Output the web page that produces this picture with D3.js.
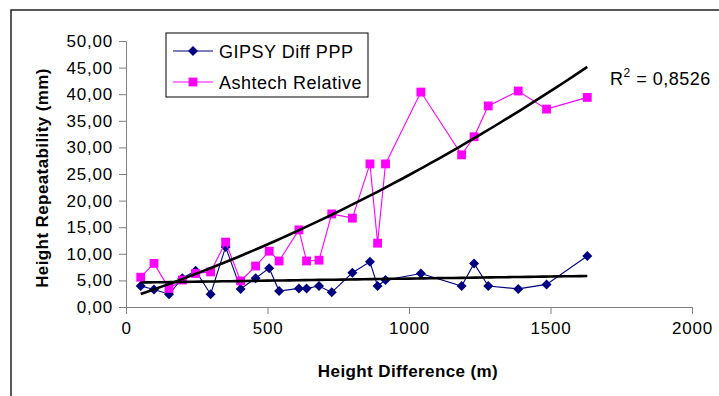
<!DOCTYPE html>
<html>
<head>
<meta charset="utf-8">
<style>
body { margin: 0; background: #fff; }
svg { display: block; font-family: "Liberation Sans", Arial, sans-serif; }
.tick text { font-size: 17px; letter-spacing: 0.8px; fill: #000; }
.axis path, .axis line { stroke: #808080; }
.title { font-size: 17px; font-weight: bold; letter-spacing: 0.4px; }
.legend text { font-size: 18px; letter-spacing: 0.5px; }
</style>
<script src="https://d3js.org/d3.v7.min.js"></script>
</head>
<body>
<svg id="chart" width="719" height="396"></svg>
<script>
// height difference between stations (m), shared by both series
var distances = [52, 99, 152, 199, 246, 299, 352, 405, 458, 506, 541, 611, 638, 682, 727,
                 800, 862, 889, 917, 1042, 1186, 1230, 1280, 1386, 1486, 1630];
// height repeatability (mm)
var gipsy = [3.95, 3.3, 2.4, 5.4, 6.8, 2.4, 11.3, 3.4, 5.4, 7.3, 3.0, 3.5, 3.5, 3.95, 2.75,
             6.45, 8.5, 3.95, 5.07, 6.3, 3.95, 8.2, 3.95, 3.4, 4.25, 9.6];
var ashtech = [5.6, 8.2, 3.5, 5.07, 6.3, 6.6, 12.2, 4.9, 7.7, 10.5, 8.65, 14.5, 8.65, 8.8, 17.5,
               16.7, 26.9, 12.0, 26.9, 40.4, 28.6, 32.0, 37.8, 40.6, 37.2, 39.4];
var seriesNames = ["GIPSY Diff PPP", "Ashtech Relative"];
// trendline coefficients [c0, c1, c2]
var gipsyTrend = [4.56, 0.00078, 0];
var ashtechTrend = [1.5, 0.0178, 5.5e-6];
var xTicks = [0, 500, 1000, 1500, 2000];
var yTicks = [0, 5, 10, 15, 20, 25, 30, 35, 40, 45, 50];
var r2Label = "0,8526";

var svg = d3.select("#chart");
var plotL = 126, plotR = 692, plotT = 41, plotB = 307;

var x = d3.scaleLinear().domain([0, 2000]).range([plotL, plotR]);
var y = d3.scaleLinear().domain([0, 50]).range([plotB, plotT]);

// outer chart frame
svg.append("rect")
  .attr("x", 11).attr("y", 10).attr("width", 730).attr("height", 420)
  .attr("fill", "none").attr("stroke", "#222").attr("stroke-width", 1.5);

var comma = function(d) { return d3.format(".2f")(d).replace(".", ","); };

svg.append("g").attr("class", "axis")
  .attr("transform", "translate(0," + plotB + ")")
  .call(d3.axisBottom(x).tickValues(xTicks).tickFormat(d3.format("d")).tickSize(7).tickSizeOuter(0).tickPadding(8));

svg.append("g").attr("class", "axis")
  .attr("transform", "translate(" + plotL + ",0)")
  .call(d3.axisLeft(y).tickValues(yTicks).tickFormat(comma).tickSize(7).tickSizeOuter(0).tickPadding(6));

var line = d3.line().x(function(d) { return x(d[0]); }).y(function(d) { return y(d[1]); });
var xmin = d3.min(distances), xmax = d3.max(distances);
function trendPts(coef) {
  return d3.range(0, 61).map(function(i) {
    var v = xmin + (xmax - xmin) * i / 60;
    return [v, coef[0] + coef[1] * v + coef[2] * v * v];
  });
}

var series = [
  { values: gipsy, color: "#000080", shape: d3.symbolSquare, size: 50, rot: 45 },
  { values: ashtech, color: "#FF00FF", shape: d3.symbolSquare, size: 78, rot: 0 }
];

series.forEach(function(s) {
  var pts = distances.map(function(d, i) { return [d, s.values[i]]; });
  svg.append("path").attr("d", line(pts)).attr("fill", "none").attr("stroke", s.color).attr("stroke-width", 1.1);
  svg.append("g").selectAll("path").data(pts).enter().append("path")
    .attr("d", d3.symbol().type(s.shape).size(s.size))
    .attr("transform", function(d) { return "translate(" + x(d[0]) + "," + y(d[1]) + ") rotate(" + s.rot + ")"; })
    .attr("fill", s.color);
});

[ashtechTrend, gipsyTrend].forEach(function(coef) {
  svg.append("path").attr("d", line(trendPts(coef)))
    .attr("fill", "none").attr("stroke", "#000").attr("stroke-width", 2.6);
});

// R squared label
var r2 = svg.append("text").attr("x", 610).attr("y", 85).style("font-size", "18px").style("letter-spacing", "0.5px");
r2.append("tspan").text("R");
r2.append("tspan").attr("dy", -8).style("font-size", "12px").text("2");
r2.append("tspan").attr("dy", 8).text(" = " + r2Label);

// axis titles
svg.append("text").attr("class", "title").attr("text-anchor", "middle")
  .attr("x", 408).attr("y", 377).text("Height Difference (m)");
svg.append("text").attr("class", "title").attr("text-anchor", "middle")
  .attr("transform", "translate(48,178) rotate(-90)").text("Height Repeatability (mm)");

// legend
var lg = svg.append("g").attr("class", "legend");
lg.append("rect").attr("x", 166).attr("y", 33).attr("width", 202).attr("height", 64)
  .attr("fill", "#fff").attr("stroke", "#000").attr("stroke-width", 1);
series.forEach(function(s, i) {
  var ly = 51 + i * 31;
  lg.append("line").attr("x1", 173).attr("x2", 213).attr("y1", ly).attr("y2", ly)
    .attr("stroke", s.color).attr("stroke-width", 1.1);
  lg.append("path").attr("d", d3.symbol().type(s.shape).size(s.size))
    .attr("transform", "translate(193," + ly + ") rotate(" + s.rot + ")").attr("fill", s.color);
  lg.append("text").attr("x", 219).attr("y", ly + 6.5).text(seriesNames[i]);
});
</script>
</body>
</html>
